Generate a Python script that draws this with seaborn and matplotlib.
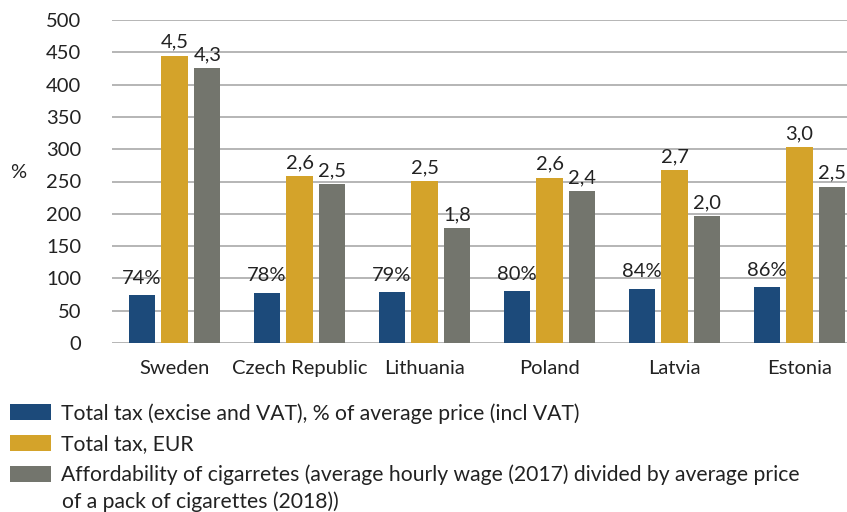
import pandas as pd
import matplotlib.pyplot as plt
import seaborn as sns
import matplotlib

countries = ['Sweden', 'Czech Republic', 'Lithuania', 'Poland', 'Latvia', 'Estonia']
tax_share = [74, 78, 79, 80, 84, 86]                 # % of average price
tax_eur = [4.45, 2.58, 2.51, 2.56, 2.68, 3.03]       # EUR, plotted x100
afford = [4.25, 2.46, 1.78, 2.35, 1.97, 2.42]        # plotted x100

tax_share_labels = ['74%', '78%', '79%', '80%', '84%', '86%']
tax_eur_labels = ['4,5', '2,6', '2,5', '2,6', '2,7', '3,0']
afford_labels = ['4,3', '2,5', '1,8', '2,4', '2,0', '2,5']

series = [
    'Total tax (excise and VAT), % of average price (incl VAT)',
    'Total tax, EUR',
    'Affordability of cigarretes (average hourly wage (2017) divided by average price',
]
series_cont = 'of a pack of cigarettes (2018))'
colors = ['#1c4a7a', '#d4a32a', '#73756d']

sns.set_style('white')
matplotlib.rcParams['font.family'] = ['Lato', 'DejaVu Sans']

fs = 14.5
leg_fs = 15.2
txt_color = '#222222'

df = pd.DataFrame({
    'country': countries * 3,
    'series': [series[0]] * 6 + [series[1]] * 6 + [series[2]] * 6,
    'value': tax_share + [v * 100 for v in tax_eur] + [v * 100 for v in afford],
})

fig = plt.figure(figsize=(8.47, 5.12), dpi=100)
ax = fig.add_axes([112 / 847, 1 - 343 / 512, 735 / 847, 323 / 512])

sns.barplot(data=df, x='country', y='value', hue='series', hue_order=series,
            palette=colors, saturation=1, linewidth=0, width=0.79, gap=0.21,
            ax=ax, legend=True)

labels = [tax_share_labels, tax_eur_labels, afford_labels]
pads = [6, 3.5, 3.5]
for cont, lab, p in zip(ax.containers, labels, pads):
    ax.bar_label(cont, labels=lab, padding=p, fontsize=fs, color=txt_color)

ax.set_ylim(0, 500)
ax.set_xlim(-0.5, 5.38)
ax.set_yticks(range(0, 501, 50))
ax.yaxis.grid(True, color='#b0b0b0', linewidth=1.3)
ax.set_axisbelow(True)
for s in ax.spines.values():
    s.set_visible(False)
ax.tick_params(axis='both', length=0, labelsize=fs, colors=txt_color)
ax.tick_params(axis='y', pad=22)
ax.tick_params(axis='x', pad=12)
ax.set_xlabel('')
ax.set_ylabel('')
fig.text(18 / 847, 1 - 173 / 512, '%', fontsize=fs, color=txt_color, ha='center', va='center')

handles, lbls = ax.get_legend_handles_labels()
ax.get_legend().remove()
fig.legend(handles, lbls, loc='upper left', bbox_to_anchor=(10 / 847, 1 - 403 / 512),
           frameon=False, fontsize=leg_fs, handlelength=1.95, handleheight=0.82,
           handletextpad=0.45, labelspacing=0.5, borderaxespad=0, borderpad=0,
           labelcolor=txt_color)
fig.text(62 / 847, 1 - 502 / 512, series_cont, fontsize=leg_fs, color=txt_color,
         ha='left', va='center')

fig.savefig('out.png', dpi=100)
